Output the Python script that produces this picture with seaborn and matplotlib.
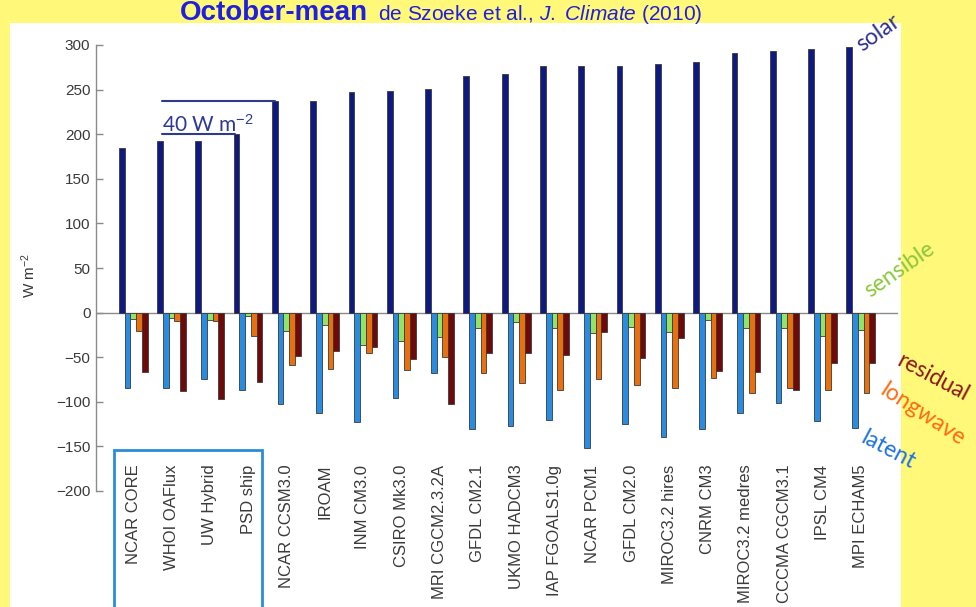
import numpy as np
import pandas as pd
import matplotlib
matplotlib.use('Agg')
import matplotlib.pyplot as plt
import seaborn as sns
from matplotlib.patches import Rectangle

# ---------------- data ----------------
models = ['NCAR CORE', 'WHOI OAFlux', 'UW Hybrid', 'PSD ship', 'NCAR CCSM3.0',
          'IROAM', 'INM CM3.0', 'CSIRO Mk3.0', 'MRI CGCM2.3.2A', 'GFDL CM2.1',
          'UKMO HADCM3', 'IAP FGOALS1.0g', 'NCAR PCM1', 'GFDL CM2.0',
          'MIROC3.2 hires', 'CNRM CM3', 'MIROC3.2 medres', 'CCCMA CGCM3.1',
          'IPSL CM4', 'MPI ECHAM5']
solar = [184, 192, 192, 200, 237, 237, 247, 248, 251, 265,
         267, 276, 276, 277, 279, 281, 291, 293, 295, 298]
latent = [-85, -85, -74, -87, -103, -113, -123, -96, -68, -130,
          -127, -120, -152, -125, -139, -131, -113, -101, -122, -129]
sensible = [-7, -6, -8, -4, -21, -14, -36, -32, -27, -17,
            -11, -17, -23, -16, -22, -8, -17, -17, -26, -19]
longwave = [-21, -9, -9, -26, -59, -63, -45, -64, -50, -68,
            -79, -87, -74, -81, -85, -73, -90, -85, -87, -90]
residual = [-67, -88, -97, -78, -49, -43, -39, -52, -102, -45,
            -45, -47, -22, -51, -29, -65, -67, -87, -56, -56]
components = ['solar', 'latent', 'sensible', 'longwave', 'residual']
y_ticks = [-200, -150, -100, -50, 0, 50, 100, 150, 200, 250, 300]
title_main = 'October-mean'
title_ref = r'de Szoeke et al., $\mathit{J.\ Climate}$ (2010)'
scale_label = '40 W m$^{-2}$'

# ---------------- style ----------------
bar_colors = ['#0E1A82', '#2A8CE0', '#90E468', '#E8700E', '#6E0A0A']
text_colors = {'solar': '#2E3192', 'sensible': '#8DC63F', 'residual': '#8B1A1A',
               'longwave': '#FF6A10', 'latent': '#1F73E0'}
yellow = '#FFF878'
title_blue = '#1F1FE0'

sns.set_style('white')
plt.rcParams['font.family'] = ['Liberation Sans', 'DejaVu Sans']
plt.rcParams['mathtext.fontset'] = 'custom'
plt.rcParams['mathtext.rm'] = 'Liberation Sans'
plt.rcParams['mathtext.it'] = 'Liberation Sans:italic'

series = {'solar': solar, 'latent': latent, 'sensible': sensible,
          'longwave': longwave, 'residual': residual}
rows = []
for comp in components:
    for m, v in zip(models, series[comp]):
        rows.append({'model': m, 'component': comp, 'value': v})
df = pd.DataFrame(rows)

W, H = 976, 607
fig = plt.figure(figsize=(W / 100, H / 100), dpi=100, facecolor=yellow)
fig.patches.append(Rectangle((10 / W, 0), 891 / W, 584 / H, transform=fig.transFigure,
                             facecolor='white', edgecolor='none', zorder=-5))

ax = fig.add_axes([96 / W, 116 / H, 802 / W, 446 / H])
ax.set_facecolor('none')
ax.set_zorder(1)

sns.barplot(data=df, x='model', y='value', hue='component', order=models,
            hue_order=components, palette=bar_colors, saturation=1, width=0.75,
            edgecolor='#3a3a3a', linewidth=0.6, ax=ax, legend=False, zorder=3)

ax.set_xlim(-0.97, 19.97)
ax.set_ylim(-200, 300)
ax.set_yticks(y_ticks)
ax.axhline(0, color='#8a8a8a', lw=1.0, zorder=2)

for s in ['top', 'right', 'bottom']:
    ax.spines[s].set_visible(False)
ax.spines['left'].set_color('#8a8a8a')
ax.spines['left'].set_linewidth(1.0)

ax.tick_params(axis='y', direction='in', length=5, color='#8a8a8a', width=1,
               labelsize=11, labelcolor='#3a3a3a', pad=4, left=True)
ax.set_xticks(range(len(models)))
ax.set_xticklabels(models, rotation=90, fontsize=12, color='#3a3a3a')
ax.tick_params(axis='x', length=0, pad=-19)
ax.set_xlabel('')
ax.set_ylabel('W m$^{-2}$', fontsize=11, color='#3a3a3a')
ax.yaxis.set_label_coords(-0.072, 0.484)

# 40 W m-2 scale annotation
ax.plot([0.757, 3.70], [solar[4], solar[4]], color='#2E3A8C', lw=1.5, zorder=4)
ax.plot([0.757, 2.65], [solar[3], solar[3]], color='#2E3A8C', lw=1.5, zorder=4)
ax.text(0.757, solar[3] + 3, scale_label, color='#2E3A92', fontsize=15,
        family=['Lato', 'DejaVu Sans'], va='baseline', ha='left', zorder=5)

# observation box
ax.add_patch(Rectangle((-0.5, -400), 3.87, 400 - 153.6, fill=False,
                       edgecolor='#2A8CD8', lw=2, clip_on=False, zorder=5))

# titles (fully visible in the top band)
t1 = fig.text(0, 1 - 20 / H, title_main, fontsize=20, weight='bold',
              color=title_blue, va='baseline', ha='left')
t2 = fig.text(0, 1 - 20 / H, title_ref, fontsize=15, color=title_blue,
              va='baseline', ha='left')
fig.canvas.draw()
r = fig.canvas.get_renderer()
w1 = t1.get_window_extent(r).width
w2 = t2.get_window_extent(r).width
gap = 10
start = 441 - (w1 + gap + w2) / 2
t1.set_x(start / W)
t2.set_x((start + w1 + gap) / W)

# component labels
labels_pos = {'solar': (878, 33, 35), 'sensible': (899, 270, 35),
              'residual': (933, 378, -28), 'longwave': (923, 414, -33),
              'latent': (888, 450, -28)}
for name, (px, py, rot) in labels_pos.items():
    fig.text(px / W, 1 - py / H, name, rotation=rot, color=text_colors[name],
             fontsize=16.5, family=['Lato', 'DejaVu Sans'], ha='center', va='center',
             zorder=6)

fig.savefig('out.png', dpi=100, facecolor=yellow)
